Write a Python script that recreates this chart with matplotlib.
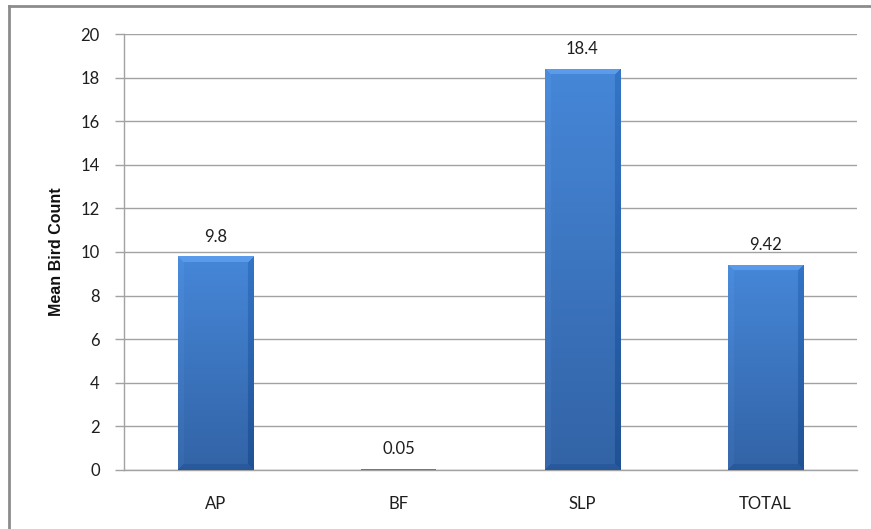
import numpy as np
import matplotlib
matplotlib.use("Agg")
import matplotlib.pyplot as plt
from matplotlib.lines import Line2D
from matplotlib.colors import to_rgb

# Mean bird count per habitat
categories = ["AP", "BF", "SLP", "TOTAL"]
mean_counts = [9.8, 0.05, 18.4, 9.42]
value_labels = ["9.8", "0.05", "18.4", "9.42"]
y_ticks = [0, 2, 4, 6, 8, 10, 12, 14, 16, 18, 20]

W_PX, H_PX, DPI = 871, 529, 100
fig = plt.figure(figsize=(W_PX / DPI, H_PX / DPI), dpi=DPI)
fig.patch.set_facecolor("white")

ax = fig.add_axes([124 / W_PX, 59 / H_PX, (857 - 124) / W_PX, (470 - 34) / H_PX])
ax.set_xlim(-0.5, len(categories) - 0.5)
ax.set_ylim(0, 20)

grid_col = "#a2a2a2"
tick_font = "Lato"
text_col = "#1e1e1e"

# gridlines and axis styling
ax.set_yticks(y_ticks)
ax.set_yticklabels([str(t) for t in y_ticks], fontsize=12, family=tick_font,
                   color=text_col)
ax.yaxis.grid(True, color=grid_col, linewidth=1.0)
ax.set_axisbelow(True)
ax.tick_params(axis="y", length=6.5, width=1.0, color=grid_col, pad=11)
ax.tick_params(axis="x", length=0, pad=19)
for side in ("top", "right"):
    ax.spines[side].set_visible(False)
for side in ("left", "bottom"):
    ax.spines[side].set_color(grid_col)
    ax.spines[side].set_linewidth(1.0)

x = np.arange(len(categories))
bar_width = 0.41
bars = ax.bar(x, mean_counts, width=bar_width, color="#3b72bd", edgecolor="none",
              zorder=2)
ax.set_xticks(x)
ax.set_xticklabels(categories, fontsize=12, family=tick_font, color=text_col)

ax.set_ylabel("Mean Bird Count", fontsize=11.5, fontweight="bold",
              family="Liberation Sans", labelpad=12, color="#111111")

# bevelled gradient fill for each bar
top_c = np.array(to_rgb("#4687d8"))
bot_c = np.array(to_rgb("#3263a6"))
px_per_x = ax.get_position().width * W_PX / (ax.get_xlim()[1] - ax.get_xlim()[0])
px_per_y = ax.get_position().height * H_PX / (ax.get_ylim()[1] - ax.get_ylim()[0])
bev = 6
for rect in bars:
    x0, w, h = rect.get_x(), rect.get_width(), rect.get_height()
    wp = max(int(round(w * px_per_x)), 2)
    hp = int(round(h * px_per_y))
    if hp < 2 * bev:
        # too thin for a bevel: plain flat fill
        rect.set_facecolor("#4a7ec6")
        rect.set_zorder(3)
        continue
    yy, xx = np.mgrid[0:hp, 0:wp]
    t = (yy / max(hp - 1, 1))[..., None]
    img = top_c * (1 - t) + bot_c * t
    b = bev
    top_r = (yy < b) & (xx >= yy) & (xx <= wp - 1 - yy)
    bot_r = (hp - 1 - yy < b) & (xx >= hp - 1 - yy) & (xx <= wp - 1 - (hp - 1 - yy))
    left_r = (xx < b) & ~top_r & ~bot_r
    right_r = (wp - 1 - xx < b) & ~top_r & ~bot_r
    img[top_r] = np.clip(img[top_r] + 0.08, 0, 1)
    img[left_r] = np.clip(img[left_r] + 0.02, 0, 1)
    img[right_r] = np.clip(img[right_r] - 0.07, 0, 1)
    img[bot_r] = np.clip(img[bot_r] - 0.04, 0, 1)
    im = ax.imshow(img, extent=(x0, x0 + w, 0, h), origin="upper",
                   aspect="auto", interpolation="bilinear", zorder=3)
    im.set_clip_path(rect)

ax.set_xlim(-0.5, len(categories) - 0.5)
ax.set_ylim(0, 20)

# value labels above the bars
for xi, v, lab in zip(x, mean_counts, value_labels):
    ax.annotate(lab, (xi, v), xytext=(0, 8.5), textcoords="offset points",
                ha="center", va="bottom", fontsize=12, family=tick_font,
                color=text_col, zorder=4)

# outer chart frame (top and left edges)
frame_col = "#8c8c8c"
fig.add_artist(Line2D([9 / W_PX, 1.0], [1 - 6 / H_PX, 1 - 6 / H_PX],
                      transform=fig.transFigure, color=frame_col, linewidth=2.0))
fig.add_artist(Line2D([9 / W_PX, 9 / W_PX], [0.0, 1 - 6 / H_PX],
                      transform=fig.transFigure, color=frame_col, linewidth=2.0))

fig.savefig("out.png", dpi=DPI, facecolor="white")
